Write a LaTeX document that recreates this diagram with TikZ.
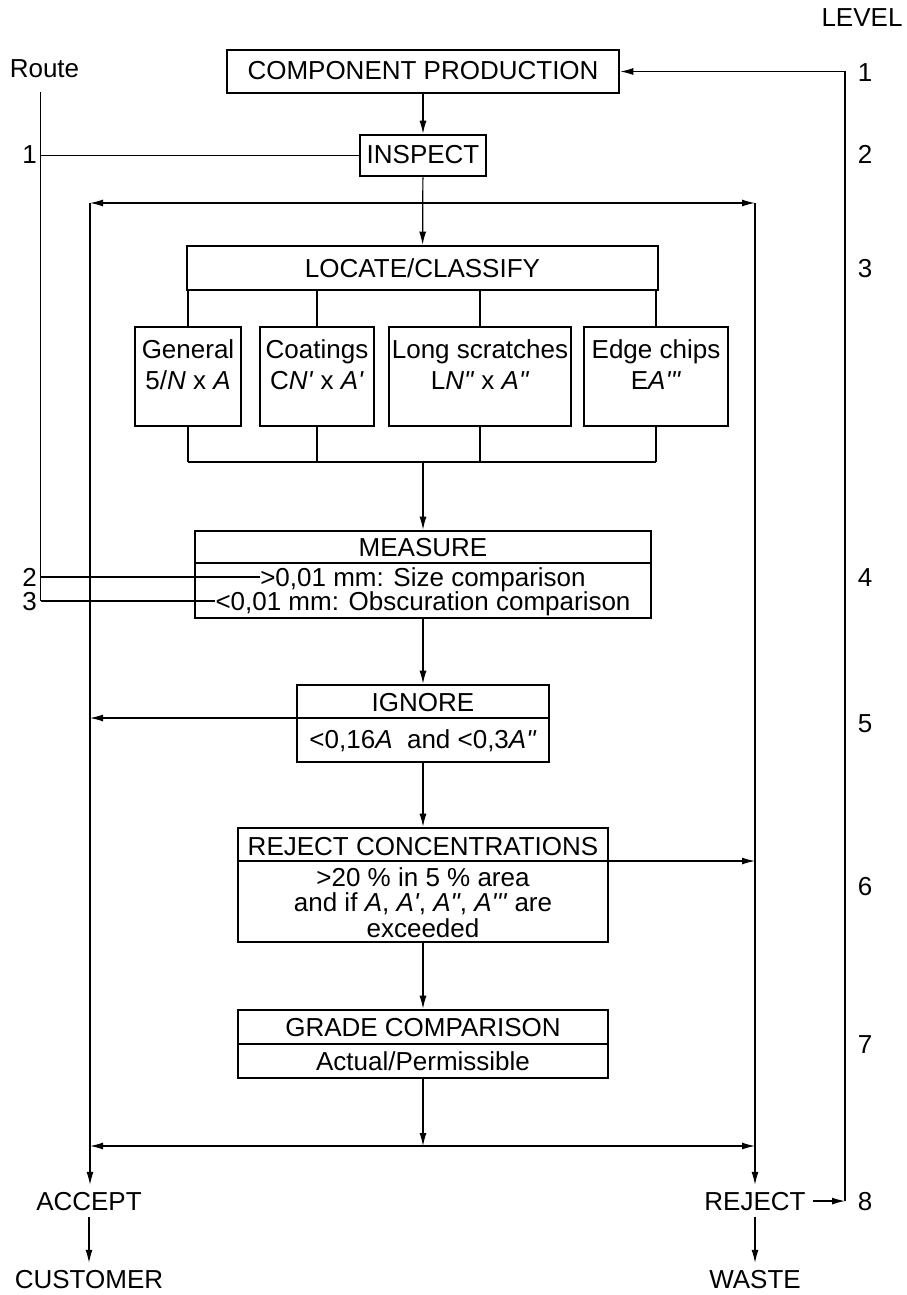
\documentclass[tikz,border=0pt]{standalone}
\usepackage{fontspec}
\setmainfont{Liberation Sans}
\usetikzlibrary{arrows.meta}
\newcommand{\pa}{\textquotesingle}
\newcommand{\pb}{\textquotedbl}
\newcommand{\pc}{\textquotesingle\textquotesingle\textquotesingle}
\begin{document}
\begin{tikzpicture}[x=1pt,y=-1pt,
  every node/.style={font=\fontsize{26}{30}\selectfont},
  box/.style={draw, line width=2.6pt, inner sep=0pt},
  txt/.style={anchor=base, inner sep=0pt},
  endlbl/.style={anchor=base, inner sep=0pt, outer sep=7pt},
  con/.style={line width=1.2pt},
  divl/.style={line width=2.4pt},
  arr/.style={con, -{Latex[length=13pt,width=7pt]}},
  darr/.style={con, {Latex[length=13pt,width=7pt]}-{Latex[length=13pt,width=7pt]}}
]
\useasboundingbox (0,0) rectangle (906,1295);

% ---------- headings ----------
\node[txt] (level) at (862,27) {LEVEL};
\node[txt] (route) at (44.5,78) {Route};

% ---------- main boxes ----------
\node[box, minimum width=392pt, minimum height=43pt] (prod) at (423,71.5) {};
\node[txt] (prodt) at (423,80) {COMPONENT PRODUCTION};

\node[box, minimum width=126pt, minimum height=41pt] (insp) at (423,155.5) {};
\node[txt] (inspt) at (423,164) {INSPECT};

\node[box, minimum width=471pt, minimum height=44pt] (loc) at (422.5,268) {};
\node[txt] (loct) at (422.5,277) {LOCATE/CLASSIFY};

% sub boxes
\node[box, minimum width=106pt, minimum height=99pt] (gen) at (188,376.5) {};
\node[txt] (gen1) at (188,358) {General};
\node[txt] (gen2) at (188,389) {5/\textit{N} x \textit{A}};

\node[box, minimum width=114pt, minimum height=99pt] (coat) at (317,376.5) {};
\node[txt] (coat1) at (317,358) {Coatings};
\node[txt] (coat2) at (317,389) {C\textit{N\pa} x \textit{A\pa}};

\node[box, minimum width=182pt, minimum height=99pt] (long) at (480,376.5) {};
\node[txt] (long1) at (480,358) {Long scratches};
\node[txt] (long2) at (480,389) {L\textit{N\pb} x \textit{A\pb}};

\node[box, minimum width=144pt, minimum height=99pt] (edge) at (656,376.5) {};
\node[txt] (edge1) at (656,358) {Edge chips};
\node[txt] (edge2) at (656,389) {E\textit{A\pc}};

% measure
\node[box, minimum width=456pt, minimum height=87pt] (meas) at (423,574.5) {};
\coordinate (mdiv) at (0,563);
\draw[divl] (meas.west |- mdiv) -- (meas.east |- mdiv);
\node[txt] (meas1) at (423,556) {MEASURE};
\node[txt] (meas2) at (423,586) {>0,01 mm: Size comparison};
\node[txt] (meas3) at (423,610) {<0,01 mm: Obscuration comparison};

% ignore
\node[box, minimum width=252pt, minimum height=77pt] (ign) at (423,723.5) {};
\coordinate (idiv) at (0,718);
\draw[divl] (ign.west |- idiv) -- (ign.east |- idiv);
\node[txt] (ign1) at (423,711) {IGNORE};
\node[txt] (ign2) at (423,748) {<0,16\textit{A}\ \ and <0,3\textit{A\pb}};

% reject concentrations
\node[box, minimum width=370pt, minimum height=114pt] (rejc) at (423,885) {};
\coordinate (rdiv) at (0,861);
\draw[divl] (rejc.west |- rdiv) -- (rejc.east |- rdiv);
\node[txt] (rejc1) at (423,855) {REJECT CONCENTRATIONS};
\node[txt] (rejc2) at (423,886) {>20 \% in 5 \% area};
\node[txt] (rejc3) at (423,911.5) {and if \textit{A}, \textit{A\pa}, \textit{A\pb}, \textit{A\pc} are};
\node[txt] (rejc4) at (423,937) {exceeded};

% grade comparison
\node[box, minimum width=370pt, minimum height=68pt] (grade) at (423,1044) {};
\coordinate (gdiv) at (0,1044);
\draw[divl] (grade.west |- gdiv) -- (grade.east |- gdiv);
\node[txt] (grade1) at (423,1036) {GRADE COMPARISON};
\node[txt] (grade2) at (423,1070) {Actual/Permissible};

% end labels
\node[endlbl] (acc) at (89,1210) {ACCEPT};
\node[endlbl] (cust) at (89,1288) {CUSTOMER};
\node[endlbl] (rej) at (755,1210) {REJECT};
\node[endlbl] (waste) at (755,1288) {WASTE};

% level numbers
\node[txt] (l1) at (865,82) {1};
\node[txt] (l2) at (865,164) {2};
\node[txt] (l3) at (865,277) {3};
\node[txt] (l4) at (865,586) {4};
\node[txt] (l5) at (865,732) {5};
\node[txt] (l6) at (865,895) {6};
\node[txt] (l7) at (865,1053) {7};
\node[txt] (l8) at (865,1210) {8};

% route numbers
\node[txt, anchor=base east] (r1) at (37,164) {1};
\node[txt, anchor=base east] (r2) at (37,586) {2};
\node[txt, anchor=base east] (r3) at (37,610) {3};

% ---------- coordinates ----------
\coordinate (rtop) at (40.5,92);
\coordinate (tl) at (90,203);
\coordinate (tr) at (755,203);
\coordinate (bl) at (90,1146);
\coordinate (br) at (755,1146);
\coordinate (bus) at (423,462);
\coordinate (fb) at (845,1201);

% ---------- connectors ----------
\draw[arr] (prod) -- (insp);
\draw[arr] (insp) -- (loc);
\draw[darr] (tl) -- (tr);

\foreach \b in {gen,coat,long,edge}{
  \draw[con] (\b.north |- loc.south) -- (\b.north);
  \draw[con] (\b.south) -- (\b.south |- bus);
}
\draw[con] (gen.south |- bus) -- (edge.south |- bus);
\draw[arr] (bus) -- (meas.north);

\draw[arr] (meas) -- (ign);
\draw[arr] (ign) -- (rejc);
\draw[arr] (rejc) -- (grade);
\draw[arr] (grade.south) -- (grade.south |- bl);

\draw[arr] (ign.west |- idiv) -- (tl |- idiv);
\draw[arr] (rejc.east |- rdiv) -- (tr |- rdiv);

\draw[darr] (bl) -- (br);
\draw[arr] (tl) -- (tl |- acc.north);
\draw[arr] (tr) -- (tr |- rej.north);
\draw[arr] (acc) -- (cust);
\draw[arr] (rej) -- (waste);

% feedback
\draw[arr] (rej.east) -- (rej.east -| fb);
\draw[arr] (rej.east -| fb) -- (prod.east -| fb) -- (prod.east);

% route lines
\draw[con] (rtop) -- (rtop |- 0,601);
\draw[con] (rtop |- insp.west) -- (insp.west);
\draw[con] (rtop |- 0,577) -- (meas2.west |- 0,577);
\draw[con] (rtop |- 0,601) -- (meas3.west |- 0,601);
\end{tikzpicture}
\end{document}
